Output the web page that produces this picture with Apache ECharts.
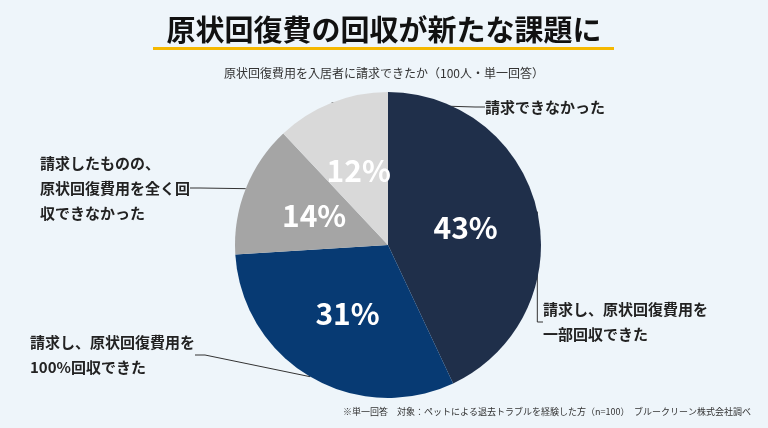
<!DOCTYPE html><html><head><meta charset="utf-8"><script src="https://cdn.jsdelivr.net/npm/echarts@6/dist/echarts.min.js"></script>
<style>html,body{margin:0;background:#eef5fa}#c{width:768px;height:428px}</style></head><body><div id="c"></div><script>
const categories=['請求し、原状回復費用を\n一部回収できた','請求し、原状回復費用を\n100%回収できた','請求したものの、\n原状回復費用を全く回\n収できなかった','請求できなかった'];
const values=[43,31,14,12];
const colors=['#1f2f4a','#073a73','#a5a5a5','#d9d9d9'];
const F='"Noto Sans CJK JP","Noto Sans",sans-serif';
const pos=[[543,322,'left'],[30,355,'left'],[40,188,'left'],[485,107,'left']];
const data=values.map((v,i)=>({value:v,name:categories[i],itemStyle:{color:colors[i]}}));
const c=echarts.init(document.getElementById('c'));
c.setOption({
 backgroundColor:'#eef5fa',
 title:[{text:'原状回復費の回収が新たな課題に',left:'center',top:10,textStyle:{fontFamily:F,fontSize:29,fontWeight:'bold',color:'#111'}},
  {text:'原状回復費用を入居者に請求できたか（100人・単一回答）',left:'center',top:62,textStyle:{fontFamily:F,fontSize:12,fontWeight:'normal',color:'#333'}},
  {text:'※単一回答　対象：ペットによる退去トラブルを経験した方（n=100）　ブルークリーン株式会社調べ',right:12,top:402,textStyle:{fontFamily:F,fontSize:9,fontWeight:'normal',color:'#333'}}],
 graphic:[{type:'rect',shape:{x:153,y:47,width:461,height:3},style:{fill:'#f5b800'}}],
 series:[
 {type:'pie',radius:[0,153],center:[388,245],startAngle:90,clockwise:true,silent:true,data:data,
  label:{position:'inside',formatter:'{c}%',color:'#fff',fontFamily:F,fontSize:30,fontWeight:'bold'},labelLine:{show:false}},
 {type:'pie',radius:[0,153],center:[388,245],startAngle:90,clockwise:true,silent:true,
  data:values.map((v,i)=>({value:v,name:categories[i],itemStyle:{color:'rgba(0,0,0,0)'}})),
  label:{position:'outside',formatter:'{b}',color:'#222',fontFamily:F,fontSize:15,fontWeight:'bold',lineHeight:25},
  labelLine:{show:true,lineStyle:{color:'#333',width:1},length:10,length2:10},
  labelLayout:p=>({x:pos[p.dataIndex][0],y:pos[p.dataIndex][1],align:pos[p.dataIndex][2],verticalAlign:'middle'})}
 ]});
</script></body></html>
